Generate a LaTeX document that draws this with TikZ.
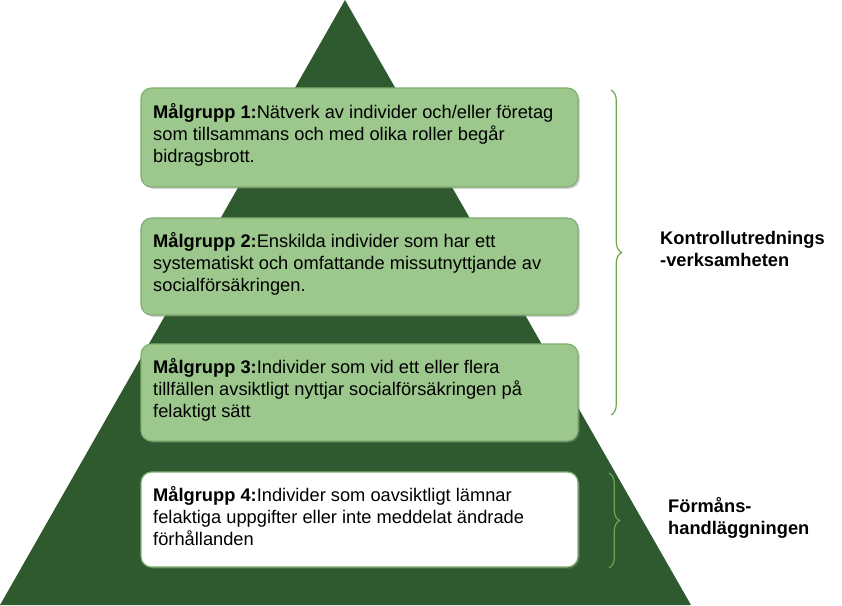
\documentclass[tikz,border=0pt]{standalone}
\usepackage{fontspec}
\setmainfont{Liberation Sans}
\usetikzlibrary{positioning,decorations.pathreplacing,shadows}
\definecolor{pyramid}{HTML}{2F5A2F}
\definecolor{boxfill}{HTML}{9DC88D}
\definecolor{boxline}{HTML}{7FAF6F}
\definecolor{bracecol}{HTML}{6AA84F}
\tikzset{
  goalbox/.style={draw=boxline,line width=1pt,fill=boxfill,rounded corners=9pt,
    drop shadow={opacity=0.35,shadow xshift=1.5pt,shadow yshift=-1.5pt}},
  goaltext/.style={anchor=north west,align=left,inner sep=0pt,
    font=\fontsize{15.6}{19}\selectfont},
  sidebrace/.style={draw=bracecol,line width=1pt,decorate,
    decoration={brace,amplitude=9pt}},
  sidelabel/.style={anchor=west,align=left,inner sep=0pt,
    font=\fontsize{15.6}{19}\selectfont\bfseries}
}
\begin{document}
\begin{tikzpicture}[x=0.03cm,y=-0.03cm]
  \useasboundingbox (0,0) rectangle (842,605);
  % pyramid
  \fill[pyramid] (345,0) -- (691,605) -- (0,605) -- cycle;

  % groups
  \draw[goalbox] (141,88) rectangle (578,187);
  \draw[goalbox] (141,218) rectangle (578,315);
  \draw[goalbox] (141,344) rectangle (578,441);
  \draw[goalbox,fill=white] (141,472) rectangle (578,567);

  \node[goaltext] (g1) at (153,103) {\textbf{Målgrupp 1:}Nätverk av individer och/eller företag\\som tillsammans och med olika roller begår\\bidragsbrott.};
  \node[goaltext] (g2) at (153,232) {\textbf{Målgrupp 2:}Enskilda individer som har ett\\systematiskt och omfattande missutnyttjande av\\socialförsäkringen.};
  \node[goaltext] (g3) at (153,358) {\textbf{Målgrupp 3:}Individer som vid ett eller flera\\tillfällen avsiktligt nyttjar socialförsäkringen på\\felaktigt sätt};
  \node[goaltext] (g4) at (153,486) {\textbf{Målgrupp 4:}Individer som oavsiktligt lämnar\\felaktiga uppgifter eller inte meddelat ändrade\\förhållanden};

  % braces
  \coordinate (b1top) at (611,90);
  \coordinate (b1bot) at (611,415);
  \coordinate (b2top) at (609,473);
  \coordinate (b2bot) at (609,568);
  \draw[sidebrace] (b1top) -- (b1bot);
  \draw[sidebrace] (b2top) -- (b2bot);
  \node[sidelabel] (kontroll) at (660,249) {Kontrollutrednings\\-verksamheten};
  \node[sidelabel] (formans) at (668,518) {Förmåns-\\handläggningen};
\end{tikzpicture}
\end{document}
